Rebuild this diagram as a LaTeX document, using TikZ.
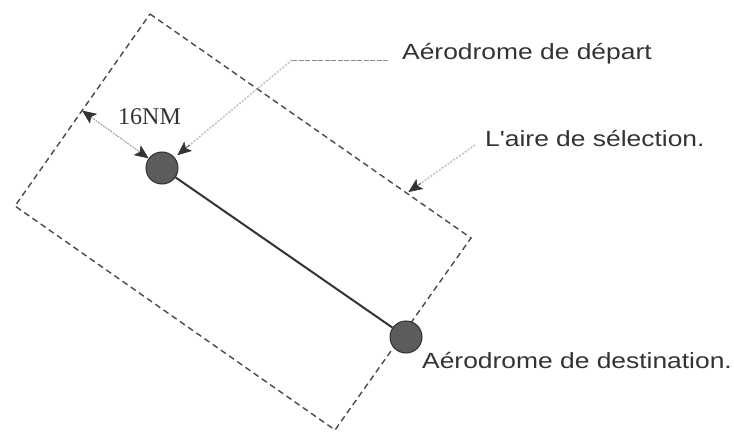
\documentclass[tikz,border=0pt]{standalone}
\usepackage{fontspec}
\usetikzlibrary{arrows.meta,calc}
\newfontfamily\labfont[FakeStretch=1.2]{Liberation Sans}
\newfontfamily\dimfont{Liberation Serif}
\definecolor{ink}{HTML}{333333}
\definecolor{frame}{HTML}{4A4A4A}
\definecolor{faint}{HTML}{C4C4C4}
\definecolor{mid}{HTML}{8A8A8A}
\tikzset{
  head/.tip={Stealth[length=14pt,width=12pt,inset=3pt,color=ink,fill=ink]},
  zone/.style={draw=frame, line width=1.4pt, dash pattern=on 6pt off 4pt},
  apt/.style={circle, minimum size=32pt, inner sep=0pt, fill=black!64, draw=black!82, line width=1pt},
  route/.style={draw=ink, line width=2pt},
  tip/.style={-{head}, draw=ink, line width=0.6pt},
  leader/.style={draw=faint, line width=1.6pt, dash pattern=on 2pt off 1.5pt},
  dimline/.style={draw=mid, line width=0.8pt, dash pattern=on 2pt off 1pt, {head}-{head}},
  lab/.style={anchor=base west, inner sep=0pt, text=ink, font=\labfont\fontsize{22}{26}\selectfont},
  dimlab/.style={anchor=base west, inner sep=0pt, text=ink, font=\dimfont\fontsize{24}{28}\selectfont}
}
\begin{document}
\begin{tikzpicture}[x=1pt,y=-1pt]
  \useasboundingbox (0,0) rectangle (734,433);

  % selection area (rotated rectangle)
  \coordinate (rT) at (150,14);
  \coordinate (rR) at (471,238);
  \coordinate (rB) at (335,430);
  \coordinate (rL) at (15,206);
  \draw[zone] (rT) -- (rR) -- (rB) -- (rL) -- cycle;

  % aerodromes and route
  \node[apt] (dep) at (162,168) {};
  \node[apt] (dst) at (406,337) {};
  \draw[route] (dep) -- (dst);

  % 16 NM margin
  \coordinate (side) at ($(rT)!0.503!(rL)$);
  \draw[dimline] (side) -- (dep);
  \node[dimlab] (nm) at (118,125) {16NM};

  % labels
  \node[lab] (deptxt) at (402,60) {Aérodrome de départ};
  \node[lab] (seltxt) at (485,147) {L'aire de sélection.};
  \node[lab] (dsttxt) at (422,368) {Aérodrome de destination.};

  % leader to the departure aerodrome
  \coordinate (depEnd) at (388,60);
  \coordinate (depKnee) at (292,60);
  \draw[draw=mid, line width=0.9pt, dash pattern=on 5pt off 1.5pt] (depEnd) -- (depKnee);
  \draw[leader] (depKnee) -- ($(dep)!33pt!(depKnee)$);
  \draw[tip] ($(dep)!36pt!(depKnee)$) -- ($(dep)!20pt!(depKnee)$);

  % leader to the selection area
  \coordinate (selStart) at (475,145);
  \coordinate (selTip) at ($(rT)!0.8!(rR)$);
  \draw[leader] (selStart) -- ($(selTip)!14pt!(selStart)$);
  \draw[tip] ($(selTip)!17pt!(selStart)$) -- ($(selTip)!2pt!(selStart)$);
\end{tikzpicture}
\end{document}
